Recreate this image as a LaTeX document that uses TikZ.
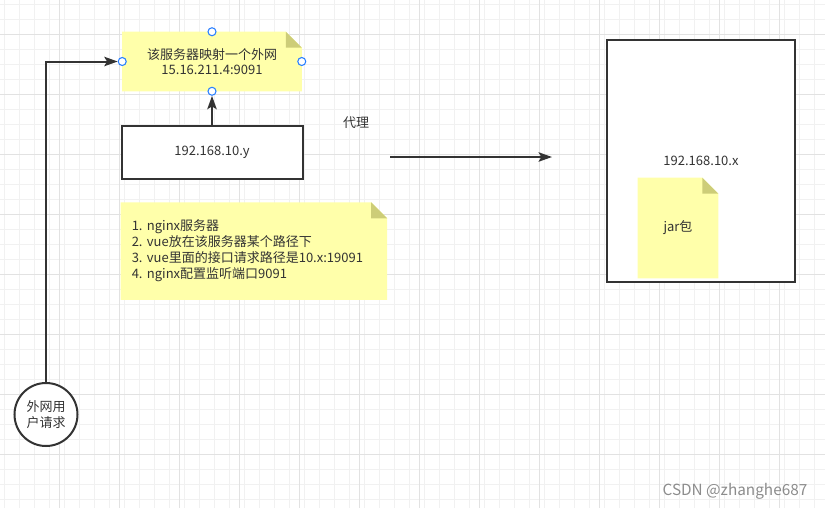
\documentclass[tikz,border=0pt]{standalone}
\usepackage{fontspec}
\setmainfont{Noto Sans CJK SC}
\frenchspacing
\usetikzlibrary{arrows.meta,positioning,backgrounds}
\definecolor{inkgray}{RGB}{51,51,51}
\definecolor{noteyellow}{RGB}{255,255,170}
\definecolor{notecorner}{RGB}{205,205,120}
\definecolor{handleblue}{RGB}{41,128,255}
\definecolor{gridminor}{RGB}{241,241,241}
\definecolor{gridmajor}{RGB}{226,226,226}
\definecolor{markgray}{RGB}{140,140,140}
\tikzset{
	box/.style={
		rectangle,
		draw=inkgray,
		line width=1.5pt,
		fill=white,
		text=inkgray,
		align=center
	},
	note/.style={
		rectangle,
		inner sep=0pt,
		text=inkgray,
		align=center
	},
	handle/.style={
		circle,
		draw=handleblue,
		fill=white,
		line width=0.8pt,
		minimum size=6pt,
		inner sep=0pt
	},
	user/.style={
		circle,
		draw=inkgray,
		line width=1.5pt,
		fill=white,
		text=inkgray,
		align=center,
		minimum size=47.25pt,
		inner sep=0pt
	},
	line/.style={-{Stealth[length=10pt,width=7pt,inset=2pt]},line width=1.5pt,draw=inkgray}
}
% yellow sheet with folded corner, drawn behind the node text
\newcommand{\notefold}[1]{%
	\begin{pgfonlayer}{background}
		\fill[noteyellow] (#1.north west) -- ([xshift=-12pt]#1.north east) -- ([yshift=-12pt]#1.north east) -- (#1.south east) -- (#1.south west) -- cycle;
		\fill[notecorner] ([xshift=-12pt]#1.north east) -- ([xshift=-12pt,yshift=-12pt]#1.north east) -- ([yshift=-12pt]#1.north east) -- cycle;
	\end{pgfonlayer}}

\begin{document}
\begin{tikzpicture}[x=0.75pt,y=-0.75pt,font=\fontsize{9.75pt}{11.75pt}\selectfont]
	\useasboundingbox (0,0) rectangle (825,508);
	% grid
	\begin{scope}[on background layer,line width=0.75pt]
		\fill[white] (0,0) rectangle (825,508);
		\foreach \gx in {4,19,...,814} \draw[gridminor] (\gx,0) -- (\gx,508);
		\foreach \gy in {4,19,...,499} \draw[gridminor] (0,\gy) -- (825,\gy);
		\foreach \gx in {59,119,...,779} \draw[gridmajor] (\gx,0) -- (\gx,508);
		\foreach \gy in {34,94,...,454} \draw[gridmajor] (0,\gy) -- (825,\gy);
	\end{scope}

	\node[note,minimum width=134.25pt,minimum height=44.25pt] (mapnote) at (212,61.5) {该服务器映射一个外网\\15.16.211.4:9091};
	\node[box,minimum width=135.75pt,minimum height=39.75pt,below=25.5pt of mapnote] (hosty) {192.168.10.y};
	\node[note,align=left,text width=183pt,inner xsep=8.25pt,minimum height=72.75pt,below right=16.5pt and 0pt of hosty.south west,font=\fontsize{9.75pt}{12pt}\selectfont] (infonote) {1. nginx服务器\\2. vue放在该服务器某个路径下\\3. vue里面的接口请求路径是10.x:19091\\4. nginx配置监听端口9091};
	\node[box,fill=none,minimum width=141pt,minimum height=181.5pt] (hostx) at (701,161) {192.168.10.x};
	\node[note,minimum width=60pt,minimum height=75pt] (jarnote) at (678,228) {jar包};
	\node[user] (user) at (46,414.5) {外网用\\户请求};
	\node[text=inkgray] (proxylbl) at (356,123) {代理};
	\node[text=markgray,font=\fontsize{11.5pt}{13pt}\selectfont,anchor=east] (mark) at (812,491) {CSDN @zhanghe687};

	\begin{pgfonlayer}{background}
		\fill[white] (hostx.south west) rectangle (hostx.north east);
	\end{pgfonlayer}
	\notefold{mapnote}
	\notefold{infonote}
	\notefold{jarnote}

	% selection handles
	\node[handle] (hn) at (mapnote.north) {};
	\node[handle] (hw) at (mapnote.west) {};
	\node[handle] (he) at (mapnote.east) {};
	\node[handle] (hs) at (mapnote.south) {};

	\coordinate (proxys) at (390,157);
	\coordinate (proxye) at (552,157);

	\draw[line] (user) |- (hw);
	\draw[line] (hosty) -- (hs);
	\draw[line] (proxys) -- (proxye);
\end{tikzpicture}
\end{document}
